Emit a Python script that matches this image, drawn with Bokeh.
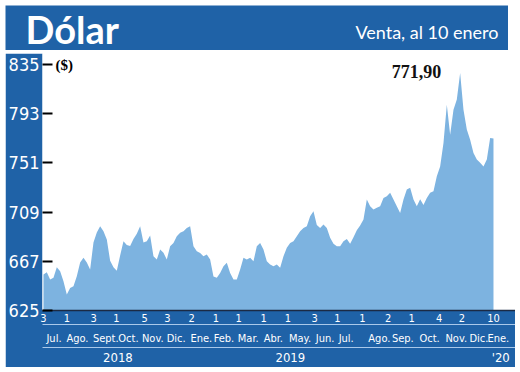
import pandas as pd
from bokeh.plotting import figure
from bokeh.layouts import column, row
from bokeh.models import Range1d, FixedTicker, LinearAxis, Label, Spacer
from bokeh.embed import file_html
from bokeh.resources import INLINE

# ---- data ----
start_date = "2018-07-03"
end_date = "2020-01-10"
values = [
    655.7, 657.7, 651.4, 652.9, 662, 658.5, 650, 638.6, 644.3, 645.7,
    654.3, 666, 670, 666, 660, 683, 691.5, 697, 692.6, 685.5,
    667.5, 662, 659, 672, 684, 681, 680, 686, 690.5, 697,
    683, 684, 689, 671.3, 668.5, 677, 674.2, 668.5, 679.8, 682.7,
    688.4, 691.3, 692.6, 695.5, 697, 679.8, 675.6, 674,
    671.3, 672.7, 668.5, 654, 652.9, 657.1, 662.8, 665.7, 657.1, 651.4,
    651.4, 660, 670, 668.5, 670, 667, 679.8, 682.7, 677, 667,
    664.2, 662.8, 664.2, 661.4, 671.3, 678.5, 682.7, 684.1, 688.4, 692.6,
    695.5, 697, 705.4, 709.7, 698, 695.5, 698.5, 695.5, 687, 682, 679.8,
    679.8, 684.1, 686, 682, 687.5, 693.4, 697.6, 702.6, 719.7, 714,
    711.2, 712.6, 714, 721.1, 722.5, 725.4, 719.7, 714, 708.3, 719.7,
    728.2, 729.7, 719.7, 714, 720, 715, 721, 725.4, 726.8, 739.5,
    748, 768, 800.7, 775, 796.4, 805, 827.7, 796.4, 779.4, 770.8,
    759.5, 753.8, 751, 748, 753.8, 772.2, 771.9,
]
y_ticks = [625, 667, 709, 751, 793, 835]
day_tick_dates = ["2018-07-03", "2018-08-01", "2018-09-03", "2018-10-01", "2018-11-05",
                  "2018-12-03", "2019-01-02", "2019-02-01", "2019-03-01", "2019-04-01",
                  "2019-05-01", "2019-06-03", "2019-07-01", "2019-08-01", "2019-09-02",
                  "2019-10-01", "2019-11-04", "2019-12-02", "2020-01-10"]
month_names = ["Jul.", "Ago.", "Sept.", "Oct.", "Nov.", "Dic.", "Ene.", "Feb.", "Mar.",
               "Abr.", "May.", "Jun.", "Jul.", "Ago.", "Sep.", "Oct.", "Nov.", "Dic.", "Ene."]
month_label_dates = ["2018-07-16", "2018-08-14", "2018-09-18", "2018-10-16", "2018-11-15",
                     "2018-12-14", "2019-01-14", "2019-02-11", "2019-03-13", "2019-04-13",
                     "2019-05-16", "2019-06-16", "2019-07-12", "2019-08-22", "2019-09-20",
                     "2019-10-23", "2019-11-25", "2019-12-23", "2020-01-16"]
year_labels = ["2018", "2019", "'20"]
year_label_dates = ["2018-10-03", "2019-05-04", "2020-01-19"]
title_text = "Dólar"
subtitle_text = "Venta, al 10 enero"
unit_text = "($)"
last_value_text = "771,90"

# ---- derived ----
t0 = pd.Timestamp(start_date)
dates = pd.date_range(start_date, end_date, periods=len(values))
x = list((dates - t0) / pd.Timedelta(days=1))

def day_offset(d):
    return int((pd.Timestamp(d) - t0).days)

day_ticks = [day_offset(d) for d in day_tick_dates]
day_labels = {day_offset(d): str(pd.Timestamp(d).day) for d in day_tick_dates}
month_ticks = [day_offset(d) for d in month_label_dates]
month_labels = {day_offset(d): n for d, n in zip(month_label_dates, month_names)}
year_ticks = [day_offset(d) for d in year_label_dates]
year_map = {day_offset(d): n for d, n in zip(year_label_dates, year_labels)}

BLUE = "#1f62a7"
FILL = "#7db3e0"
LIGHT = "#a9c8ea"
NARROW = "'Liberation Sans Narrow', 'DejaVu Sans Condensed', sans-serif"

# ---- banner ----
banner = figure(width=508, height=50, x_range=Range1d(0, 1), y_range=Range1d(0, 1),
                output_backend="svg", toolbar_location=None, title=None,
                min_border_left=5, min_border_top=5, min_border_right=0, min_border_bottom=0)
banner.axis.visible = False
banner.grid.visible = False
banner.outline_line_color = None
banner.background_fill_color = BLUE
banner.border_fill_color = "white"
banner.add_layout(Label(x=25, y=28, x_units="canvas", y_units="canvas", text=title_text,
                        text_color="white", text_font="Lato", text_font_style="bold",
                        text_font_size="38px", text_baseline="middle", text_align="left"))
banner.add_layout(Label(x=498, y=31, x_units="canvas", y_units="canvas", text=subtitle_text,
                        text_color="white", text_font="Lato",
                        text_font_size="18px", text_baseline="middle", text_align="right"))

# ---- main chart ----
p = figure(width=510, height=314, x_range=Range1d(-1.2, 583.2), y_range=Range1d(625, 844.35),
           output_backend="svg", toolbar_location=None, title=None,
           min_border_left=37, min_border_right=0, min_border_top=0, min_border_bottom=56)
p.background_fill_color = "white"
p.border_fill_color = BLUE
p.outline_line_color = None
p.xgrid.visible = False
p.ygrid.visible = False

p.varea(x=x, y1=625, y2=values, fill_color=FILL, fill_alpha=1)

ya = p.yaxis[0]
ya.ticker = FixedTicker(ticks=y_ticks)
ya.major_label_text_color = "white"
ya.major_label_text_font = NARROW
ya.major_label_text_font_size = "18px"
ya.major_tick_in = 10
ya.major_tick_out = 0
ya.major_tick_line_color = "black"
ya.major_tick_line_width = 2
ya.minor_tick_line_color = None
ya.axis_line_color = None
ya.major_label_standoff = 3

xa = p.xaxis[0]
xa.ticker = FixedTicker(ticks=day_ticks)
xa.major_label_overrides = day_labels
xa.major_label_text_color = "white"
xa.major_label_text_font = NARROW
xa.major_label_text_font_size = "11px"
xa.major_label_standoff = 3
xa.major_tick_in = 0
xa.major_tick_out = 0
xa.minor_tick_line_color = None
xa.axis_line_color = "#1b2a44"
xa.axis_line_width = 1.5

ma = LinearAxis(ticker=FixedTicker(ticks=month_ticks), major_label_overrides=month_labels)
ma.major_label_text_color = "white"
ma.major_label_text_font = NARROW
ma.major_label_text_font_size = "11px"
ma.major_label_standoff = 7
ma.major_tick_in = 0
ma.major_tick_out = 0
ma.minor_tick_line_color = None
ma.axis_line_color = LIGHT
p.add_layout(ma, "below")

yr = LinearAxis(ticker=FixedTicker(ticks=year_ticks), major_label_overrides=year_map)
yr.major_label_text_color = "white"
yr.major_label_text_font = NARROW
yr.major_label_text_font_size = "13px"
yr.major_label_standoff = 2
yr.major_tick_in = 0
yr.major_tick_out = 0
yr.minor_tick_line_color = None
yr.axis_line_color = LIGHT
p.add_layout(yr, "below")

p.add_layout(Label(x=50, y=11, x_units="canvas", y_units="canvas", text=unit_text,
                   text_color="black", text_font="Liberation Serif", text_font_style="bold",
                   text_font_size="15px", text_baseline="middle", text_align="left"))
p.add_layout(Label(x=411, y=18, x_units="canvas", y_units="canvas", text=last_value_text,
                   text_color="#111111", text_font="Liberation Serif", text_font_style="bold",
                   text_font_size="18px", text_baseline="middle", text_align="center"))

layout = column(banner, row(Spacer(width=5, height=314), p), spacing=3)
open("out.html", "w").write(file_html(layout, INLINE))
